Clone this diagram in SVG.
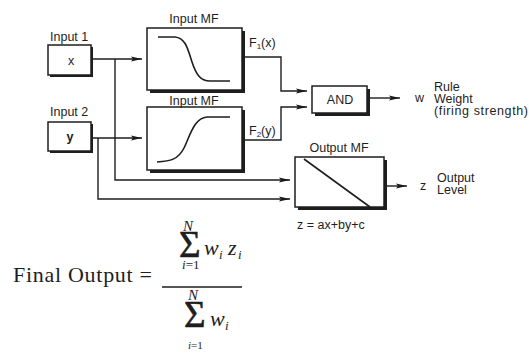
<svg xmlns="http://www.w3.org/2000/svg" width="529" height="353" viewBox="0 0 529 353">
<defs>
<marker id="arr" markerWidth="12" markerHeight="8" refX="11" refY="4" orient="auto" markerUnits="userSpaceOnUse">
<path d="M0,1.5 L11,4 L0,6.5 L2,4 Z" fill="#1a1a1a"/>
</marker>
<style>
.sh{fill:#1e1e1e}
.bx{fill:#fff;stroke:#1e1e1e;stroke-width:1.5}
.ln{fill:none;stroke:#1e1e1e;stroke-width:1.4}
.cv{fill:none;stroke:#1e1e1e;stroke-width:1.6}
.t{font-family:"Liberation Sans",Arial,sans-serif;font-size:12.5px;fill:#1e1e1e}
.m{font-family:"Liberation Serif","Times New Roman",serif;fill:#1e1e1e}
.it{font-style:italic}
.sg{font-size:37px;stroke:#1e1e1e;stroke-width:0.6}
</style>
</defs>
<rect width="529" height="353" fill="#fff"/>

<g id="connectors">
<path class="ln" d="M91,59 H142" marker-end="url(#arr)"/>
<path class="ln" d="M115,59 V180 H290" marker-end="url(#arr)"/>
<path class="ln" d="M91,138 H142" marker-end="url(#arr)"/>
<path class="ln" d="M98,138 V199 H290" marker-end="url(#arr)"/>
<path class="ln" d="M245,57 H281 V91 H307" marker-end="url(#arr)"/>
<path class="ln" d="M245,140 H281 V107 H307" marker-end="url(#arr)"/>
<path class="ln" d="M370,98 H400" marker-end="url(#arr)"/>
<path class="ln" d="M387,186 H407" marker-end="url(#arr)"/>
</g>

<g id="input1">
<text class="t" x="50" y="41">Input 1</text>
<rect class="sh" x="50" y="47" width="43" height="30"/>
<rect class="bx" x="48" y="45" width="43" height="30"/>
<text class="t" x="71" y="65" font-size="14" text-anchor="middle">x</text>
</g>

<g id="input2">
<text class="t" x="50" y="116">Input 2</text>
<rect class="sh" x="50" y="124" width="43" height="29"/>
<rect class="bx" x="48" y="122" width="43" height="29"/>
<text class="t" x="70" y="141" font-size="15" font-weight="bold" text-anchor="middle">y</text>
</g>

<g id="inputmf1">
<text class="t" x="194" y="23" font-size="13" text-anchor="middle">Input MF</text>
<rect class="sh" x="150" y="31" width="95" height="62"/>
<rect class="bx" x="147" y="28" width="95" height="62"/>
<path class="cv" d="M158,37 H175 C186,38 188,50 192,62 C196,74 200,81 210,81 H230"/>
<text class="t" x="249" y="47" font-size="13">F<tspan font-size="8" dy="2">1</tspan><tspan dy="-2">(x)</tspan></text>
</g>

<g id="inputmf2">
<rect class="sh" x="150" y="110" width="95" height="63"/>
<rect class="bx" x="147" y="107" width="95" height="63"/>
<text class="t" x="194" y="105" font-size="13" text-anchor="middle">Input MF</text>
<path class="cv" d="M157,162 C170,161 178,160 184,148 C190,136 194,118 207,117 H230"/>
<text class="t" x="249" y="135" font-size="13">F<tspan font-size="8" dy="2">2</tspan><tspan dy="-2">(y)</tspan></text>
</g>

<g id="and">
<rect class="sh" x="315" y="89" width="55" height="27"/>
<rect class="bx" x="312" y="86" width="55" height="27"/>
<text class="t" x="340" y="104" font-size="13" text-anchor="middle">AND</text>
<text class="t" x="415" y="102" font-size="12">w</text>
<text class="t" x="434" y="91">Rule</text>
<text class="t" x="434" y="103">Weight</text>
<text class="t" x="434" y="115" textLength="94">(firing strength)</text>
</g>

<g id="outputmf">
<text class="t" x="339" y="152" font-size="13" text-anchor="middle">Output MF</text>
<rect class="sh" x="298" y="160" width="89" height="50"/>
<rect class="bx" x="295" y="157" width="89" height="50"/>
<path class="cv" d="M304,159 L370,207"/>
<text class="t" x="297" y="229">z = ax+by+c</text>
<text class="t" x="420" y="190" font-size="12">z</text>
<text class="t" x="437" y="182">Output</text>
<text class="t" x="437" y="194">Level</text>
</g>

<g id="formula">
<text class="m" x="13" y="282" font-size="22" textLength="139" lengthAdjust="spacing">Final Output =</text>
<text class="m it" x="183" y="231" font-size="15">N</text>
<text class="m sg" x="179" y="257">Σ</text>
<text class="m it" x="204" y="255" font-size="22">w</text>
<text class="m it" x="219" y="259" font-size="13">i</text>
<text class="m it" x="228" y="255" font-size="22">z</text>
<text class="m it" x="238" y="259" font-size="13">i</text>
<text class="m" x="182" y="269" font-size="13"><tspan class="it">i</tspan>=1</text>
<path d="M162,287 H242" stroke="#1e1e1e" stroke-width="1.5"/>
<text class="m it" x="188" y="300" font-size="15">N</text>
<text class="m sg" x="184" y="327">Σ</text>
<text class="m it" x="210" y="326" font-size="22">w</text>
<text class="m it" x="225" y="330" font-size="13">i</text>
<text class="m" x="188" y="349" font-size="11"><tspan class="it">i</tspan>=1</text>
</g>
</svg>
